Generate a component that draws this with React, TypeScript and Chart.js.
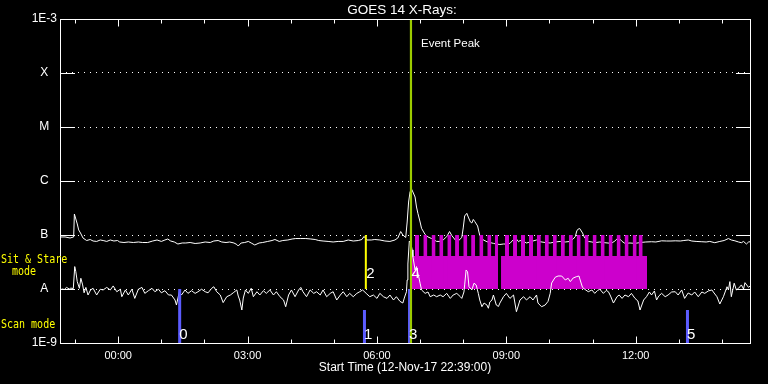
import React, { useEffect, useRef } from 'react';
import { Chart, registerables } from 'chart.js';

Chart.register(...registerables);

const TITLE = 'GOES 14 X-Rays:';
const X_TITLE = 'Start Time (12-Nov-17 22:39:00)';
const PEAK_TEXT = 'Event Peak';

// time axis: minutes after 12-Nov-17 22:39:00
const X_MIN = 0;
const X_MAX = 960;
const hourTicks = [21, 81, 141, 201, 261, 321, 381, 441, 501, 561, 621, 681, 741, 801, 861, 921];
const hourLabels = ['', '00:00', '', '', '03:00', '', '', '06:00', '', '', '09:00', '', '', '12:00', '', ''];

const yTickValues = [1e-9, 1e-8, 1e-7, 1e-6, 1e-5, 1e-4, 1e-3];
const yTickLabels = ['1E-9', 'A', 'B', 'C', 'M', 'X', '1E-3'];

// GOES long channel (1-8 A)
const longT = [
  0, 7, 14, 19, 20, 22, 24, 26, 28.5, 32,
  37, 42, 46, 51, 56, 60, 65, 70, 75, 80,
  83, 89, 95, 102, 109, 115, 122, 129, 135, 141,
  146, 150, 154, 159, 164, 170, 175, 181, 188, 195,
  202, 209, 214, 220, 225, 231, 236, 242, 246, 248,
  252, 257, 262, 266, 271, 277, 282, 289, 295, 299,
  305, 310, 317, 323, 328, 335, 342, 349, 355, 360,
  366, 373, 380, 387, 394, 401, 408, 415, 420, 423,
  427, 433, 438, 445, 452, 459, 466, 470, 474, 477,
  481, 483, 485, 487, 489, 491, 494, 496, 498, 501,
  503, 508, 512, 517, 524, 529, 533, 538, 542, 545,
  550, 554, 559, 561, 563, 566, 568, 571, 573, 575,
  577, 581, 584, 588, 594, 598, 603, 607, 612, 617,
  621, 626, 631, 633, 635, 638, 640, 645, 649, 654,
  658, 663, 668, 675, 682, 689, 696, 703, 710, 714,
  717, 719, 721, 723, 727, 730, 735, 740, 744, 751,
  758, 767, 772, 777, 782, 786, 793, 800, 809, 815,
  823, 829, 837, 844, 850, 856, 863, 868, 874, 879,
  885, 893, 899, 904, 911, 918, 924, 930, 934, 939,
  944, 948, 951, 955, 958, 960,
];
const longFlux = [
  9.2e-8, 9.2e-8, 8.8e-8, 9.2e-8, 2.45e-7, 1.98e-7, 1.6e-7, 1.24e-7, 1.09e-7, 8.8e-8,
  7.9e-8, 8.25e-8, 7.74e-8, 7.6e-8, 8.08e-8, 7.9e-8, 7.6e-8, 8.08e-8, 7.74e-8, 7.9e-8,
  7.42e-8, 7.26e-8, 7.42e-8, 7.26e-8, 7.42e-8, 7.26e-8, 7.26e-8, 7.74e-8, 8.08e-8, 7.6e-8,
  8.08e-8, 8.43e-8, 7.74e-8, 7.42e-8, 6.81e-8, 7.11e-8, 7.11e-8, 7.26e-8, 6.96e-8, 7.11e-8,
  7.42e-8, 7.26e-8, 7.74e-8, 7.9e-8, 7.42e-8, 7.26e-8, 7.42e-8, 7.11e-8, 6.67e-8, 6.26e-8,
  7.11e-8, 7.26e-8, 7.6e-8, 7.11e-8, 6.53e-8, 7.11e-8, 7.26e-8, 7.6e-8, 7.9e-8, 8.25e-8,
  7.6e-8, 7.9e-8, 8.08e-8, 8.43e-8, 8.6e-8, 8.6e-8, 8.6e-8, 8.43e-8, 8.25e-8, 7.9e-8,
  7.74e-8, 7.6e-8, 7.42e-8, 7.6e-8, 7.6e-8, 8.08e-8, 7.74e-8, 7.9e-8, 8.25e-8, 9.4e-8,
  8.08e-8, 8.08e-8, 8.25e-8, 8.08e-8, 7.74e-8, 7.6e-8, 8.08e-8, 8.8e-8, 1.16e-7, 1.0e-7,
  9.0e-8, 1.74e-7, 4.08e-7, 6.26e-7, 7.11e-7, 6.26e-7, 5.05e-7, 3.3e-7, 2.5e-7, 1.74e-7,
  1.33e-7, 1.02e-7, 9.2e-8, 8.6e-8, 7.6e-8, 7.6e-8, 8.08e-8, 9.3e-8, 1.16e-7, 9.8e-8,
  8.08e-8, 7.74e-8, 9.0e-8, 1.35e-7, 2.25e-7, 2.52e-7, 2.15e-7, 1.74e-7, 1.67e-7, 1.94e-7,
  1.78e-7, 1.47e-7, 9.8e-8, 8.25e-8, 7.5e-8, 7.26e-8, 7.0e-8, 6.81e-8, 6.67e-8, 6.81e-8,
  6.81e-8, 7.0e-8, 8.25e-8, 9.0e-8, 8.43e-8, 7.5e-8, 7.9e-8, 7.6e-8, 7.11e-8, 7.42e-8,
  7.74e-8, 8.08e-8, 7.5e-8, 7.26e-8, 7.11e-8, 7.42e-8, 7.6e-8, 7.42e-8, 7.6e-8, 8.43e-8,
  9.4e-8, 1.19e-7, 1.29e-7, 1.32e-7, 1.09e-7, 8.8e-8, 7.6e-8, 7.42e-8, 7.2e-8, 7.42e-8,
  7.2e-8, 7.0e-8, 7.74e-8, 9.0e-8, 7.6e-8, 7.0e-8, 7.11e-8, 7.0e-8, 7.3e-8, 7.42e-8,
  7.5e-8, 7.42e-8, 7.8e-8, 7.74e-8, 7.74e-8, 7.8e-8, 7.74e-8, 7.9e-8, 8.08e-8, 7.74e-8,
  7.6e-8, 7.5e-8, 7.42e-8, 7.6e-8, 7.2e-8, 7.6e-8, 7.9e-8, 8.6e-8, 8.08e-8, 7.8e-8,
  7.42e-8, 7.2e-8, 7.6e-8, 6.81e-8, 7.42e-8, 7.5e-8,
];

// GOES short channel (0.5-4 A)
const shortT = [
  0, 3, 6, 9, 13, 15, 18.5, 20.5, 22, 24,
  27, 29, 31.5, 33.5, 36, 39, 42.5, 46, 51, 56,
  60, 65, 70, 74, 79, 84, 86, 91, 95, 100,
  104, 109, 114, 118, 123, 128, 132, 137, 141, 146,
  151, 155, 160, 162, 166, 169, 174, 178, 183, 188,
  192, 197, 202, 206, 211, 214, 218, 223, 227, 232,
  237, 241, 246, 248, 250, 253, 255, 258, 262, 266,
  269, 274, 278, 283, 287, 292, 297, 301, 306, 311,
  314, 318, 322, 327, 332, 335, 338, 343, 348, 353,
  357, 362, 366, 371, 376, 380, 385, 390, 394, 399,
  403, 408, 413, 417, 421, 426, 431, 436, 441, 445,
  450, 455, 459, 464, 468, 473, 477, 479, 482, 483,
  484, 486, 488, 490, 491, 494, 496, 498, 501, 503,
  508, 512, 515, 520, 524, 529, 533, 538, 543, 547,
  552, 557, 559, 562, 563, 565, 567, 569, 573, 576,
  579, 582, 584, 587, 590, 594, 596, 598, 601, 603,
  605, 607, 610, 612, 617, 621, 626, 631, 635, 640,
  645, 649, 654, 658, 663, 665, 670, 675, 679, 682,
  684, 689, 693, 698, 703, 707, 710, 714, 719, 722,
  725, 727, 730, 735, 740, 744, 748, 751, 756, 760,
  763, 766, 770, 775, 778, 782, 786, 791, 795, 800,
  804, 807, 812, 816, 820, 823, 827, 830, 833, 837,
  842, 846, 851, 856, 860, 865, 869, 874, 879, 883,
  888, 893, 897, 902, 907, 910, 914, 918, 923, 928,
  930, 932, 934, 938, 941, 944, 948, 951, 953, 958,
  960,
];
const shortFlux = [
  9.6e-9, 1.0e-8, 9.8e-9, 1.07e-8, 1.0e-8, 1.04e-8, 1.02e-8, 2.6e-8, 2.09e-8, 1.37e-8,
  1.03e-8, 1.58e-8, 1.19e-8, 8.5e-9, 1.07e-8, 7.74e-9, 9.6e-9, 1.03e-8, 7.74e-9, 9.9e-9,
  9.6e-9, 1.07e-8, 9.6e-9, 1.14e-8, 8.9e-9, 9.9e-9, 7.2e-9, 9.6e-9, 7.74e-9, 9.9e-9,
  6.7e-9, 9.9e-9, 1.07e-8, 8.3e-9, 9.3e-9, 1.03e-8, 8.9e-9, 9.9e-9, 8.5e-9, 9.3e-9,
  7.74e-9, 7.74e-9, 6.26e-9, 5.05e-9, 8.9e-9, 7.74e-9, 9.6e-9, 8.3e-9, 9.3e-9, 8.3e-9,
  8.9e-9, 9.9e-9, 8.9e-9, 8.5e-9, 1.03e-8, 1.1e-8, 8.9e-9, 7.74e-9, 5.6e-9, 7.2e-9,
  7.74e-9, 8.5e-9, 9.6e-9, 7.4e-9, 6.26e-9, 4.08e-9, 6.8e-9, 9.6e-9, 8.3e-9, 1.03e-8,
  7.2e-9, 8.9e-9, 7.74e-9, 9.3e-9, 8.3e-9, 9.6e-9, 7.74e-9, 8.9e-9, 7.2e-9, 6.26e-9,
  4.7e-9, 7.74e-9, 9.6e-9, 7.2e-9, 9.6e-9, 1.07e-8, 8.9e-9, 7.2e-9, 9.6e-9, 8.3e-9,
  8.9e-9, 7.74e-9, 9.6e-9, 7.2e-9, 8.3e-9, 8.9e-9, 6.26e-9, 7.74e-9, 8.9e-9, 7.2e-9,
  8.3e-9, 7.2e-9, 8.3e-9, 8.9e-9, 9.6e-9, 8.3e-9, 7.2e-9, 7.74e-9, 6.7e-9, 8.3e-9,
  7.2e-9, 6.7e-9, 7.74e-9, 6.26e-9, 7.2e-9, 5.9e-9, 5.5e-9, 6.8e-9, 8.9e-9, 1.47e-8,
  2.9e-8, 7.74e-8, 7.1e-8, 5.3e-8, 3.97e-8, 2.25e-8, 2.6e-8, 1.95e-8, 1.28e-8, 9.6e-9,
  8.3e-9, 8.8e-9, 7.2e-9, 7.74e-9, 7.2e-9, 7.74e-9, 7.2e-9, 8.3e-9, 6.7e-9, 7.74e-9,
  8.3e-9, 7.2e-9, 6.7e-9, 8.8e-9, 1.19e-8, 2.25e-8, 2.09e-8, 1.1e-8, 9.6e-9, 1.28e-8,
  1.19e-8, 8.3e-9, 6.26e-9, 4.7e-9, 5.5e-9, 5.05e-9, 4.4e-9, 5.75e-9, 6.26e-9, 7.74e-9,
  6.26e-9, 5.05e-9, 4.75e-9, 5.5e-9, 7.2e-9, 8.3e-9, 6.7e-9, 7.74e-9, 3.8e-9, 6.26e-9,
  7.2e-9, 6.26e-9, 7.2e-9, 6.26e-9, 7.74e-9, 5.5e-9, 4.7e-9, 5.05e-9, 5.9e-9, 8.3e-9,
  1.29e-8, 1.65e-8, 1.74e-8, 1.74e-8, 1.47e-8, 1.58e-8, 1.37e-8, 1.6e-8, 1.7e-8, 1.74e-8,
  1.29e-8, 1.07e-8, 9.9e-9, 8.9e-9, 9.6e-9, 8.3e-9, 9.4e-9, 9.9e-9, 8.3e-9, 9.4e-9,
  8.9e-9, 7.4e-9, 5.5e-9, 7.2e-9, 7.74e-9, 6.7e-9, 7.74e-9, 7.2e-9, 8.3e-9, 6.7e-9,
  6.0e-9, 4.08e-9, 6.26e-9, 7.2e-9, 8.8e-9, 7.74e-9, 9.2e-9, 6.26e-9, 7.4e-9, 8.3e-9,
  7.2e-9, 7.74e-9, 8.8e-9, 8.9e-9, 7.74e-9, 9.6e-9, 6.7e-9, 8.43e-9, 7.74e-9, 8.8e-9,
  7.2e-9, 8.8e-9, 8.3e-9, 9.2e-9, 9.6e-9, 8.43e-9, 7.2e-9, 5.27e-9, 7.2e-9, 1.1e-8,
  9.6e-9, 1.37e-8, 7.2e-9, 1.28e-8, 9.6e-9, 1.03e-8, 1.19e-8, 1.0e-8, 1.31e-8, 1.07e-8,
  1.14e-8,
];

// IRIS observations (minutes after start)
const rasterStart = [493.9, 505.5, 516.9, 527.7, 538.9, 549.7, 561.1, 572.0, 583.4, 594.5, 605.0,
  619.1, 630.3, 641.4, 652.5, 663.4, 674.5, 685.6, 696.8, 707.9, 718.8, 729.9, 741.0, 752.2,
  763.3, 774.4, 785.5, 796.7, 805.0];
const rasterEnd = [499.5, 511.1, 522.5, 533.3, 544.5, 555.3, 566.7, 577.6, 589.0, 600.1, 609.4,
  624.7, 635.9, 647.0, 658.1, 669.0, 680.1, 691.2, 702.4, 713.5, 724.4, 735.5, 746.6, 757.8,
  768.9, 780.0, 791.1, 802.3, 810.7];
const stareStart = [489.7, 613.6];
const stareEnd = [609.4, 816.7];
const stareLabel = '4';
const bandTop = 1e-7;
const bandMid = 4.1e-8;
const bandBottom = 1e-8;

const scanT = [166.5, 423.6, 486.3, 873.0];
const scanTop = [1e-8, 4.1e-9, 1e-8, 4.1e-9];
const scanLabels = ['0', '1', '3', '5'];
const stareMarkT = 425.5;
const stareMarkLabel = '2';
const peakT = 488.3;

const WHITE = '#ffffff';
const MAGENTA = '#cc00cc';
const BLUE = '#5c5cff';
const YELLOW = '#ffff00';
const GREEN = '#9ccc00';

const pts = (t: number[], f: number[]) => t.map((v, i) => ({ x: v, y: f[i] }));

const stretchText = (ctx: any, text: string, x: number, y: number, sy: number) => {
  ctx.save();
  ctx.translate(x, y);
  ctx.scale(1, sy);
  ctx.fillText(text, 0, 0);
  ctx.restore();
};

const overlay = {
  id: 'overlay',
  afterDraw(chart: any) {
    const { ctx, chartArea: a } = chart;
    const xs = chart.scales.x;
    const ys = chart.scales.y;
    ctx.save();
    ctx.setLineDash([]);
    ctx.strokeStyle = WHITE;
    ctx.lineWidth = 1;
    ctx.strokeRect(a.left + 0.5, a.top + 0.5, a.right - a.left, a.bottom - a.top);
    ctx.beginPath();
    hourTicks.forEach((t, i) => {
      const px = Math.round(xs.getPixelForValue(t)) + 0.5;
      const len = hourLabels[i] ? 7 : 4;
      ctx.moveTo(px, a.bottom + 0.5);
      ctx.lineTo(px, a.bottom + 0.5 - len);
      ctx.moveTo(px, a.top + 0.5);
      ctx.lineTo(px, a.top + 0.5 + len);
    });
    yTickValues.forEach((v) => {
      const py = Math.round(ys.getPixelForValue(v)) + 0.5;
      ctx.moveTo(a.left, py);
      ctx.lineTo(a.left + 15, py);
      ctx.moveTo(a.right + 1, py);
      ctx.lineTo(a.right - 14, py);
    });
    ctx.stroke();

    ctx.fillStyle = WHITE;
    ctx.textBaseline = 'alphabetic';
    ctx.textAlign = 'center';
    ctx.font = '13.5px "Liberation Sans"';
    ctx.fillText(TITLE, 402, 14);

    ctx.textAlign = 'left';
    ctx.font = '11.5px "Liberation Sans"';
    ctx.fillText(PEAK_TEXT, xs.getPixelForValue(peakT) + 10, a.top + 28);

    ctx.font = '15px "Liberation Sans"';
    scanT.forEach((t, i) => {
      ctx.fillText(scanLabels[i], xs.getPixelForValue(t) - 0.5, a.bottom - 4.5);
    });
    const midRow = ys.getPixelForValue(bandBottom) - 11;
    ctx.fillText(stareMarkLabel, xs.getPixelForValue(stareMarkT) + 0.5, midRow);
    ctx.fillText(stareLabel, xs.getPixelForValue(stareStart[0]) - 0.5, midRow);

    ctx.fillStyle = YELLOW;
    ctx.font = '10px "DejaVu Sans Mono"';
    const aRow = ys.getPixelForValue(bandBottom);
    stretchText(ctx, 'Sit & Stare', 1, aRow - 26, 1.22);
    stretchText(ctx, 'mode', 12, aRow - 14, 1.22);
    stretchText(ctx, 'Scan mode', 1, a.bottom - 15, 1.22);
    ctx.restore();
  },
};

export default function App() {
  const ref = useRef<HTMLCanvasElement>(null);
  useEffect(() => {
    document.body.style.margin = '0';
    document.body.style.background = '#000';
    const datasets: any[] = [];
    datasets.push({
      data: pts(longT, longFlux), borderColor: WHITE, borderWidth: 1, pointRadius: 0, order: 5,
    });
    rasterStart.forEach((s, i) => {
      datasets.push({
        data: [{ x: s, y: bandTop }, { x: rasterEnd[i], y: bandTop }],
        borderWidth: 0, borderColor: 'rgba(0,0,0,0)', backgroundColor: MAGENTA,
        fill: { value: bandBottom }, pointRadius: 0, order: 4,
      });
    });
    stareStart.forEach((s, i) => {
      datasets.push({
        data: [{ x: s, y: bandMid }, { x: stareEnd[i], y: bandMid }],
        borderWidth: 0, borderColor: 'rgba(0,0,0,0)', backgroundColor: MAGENTA,
        fill: { value: bandBottom }, pointRadius: 0, order: 4,
      });
    });
    datasets.push({
      data: pts(shortT, shortFlux), borderColor: WHITE, borderWidth: 1, pointRadius: 0, order: 3,
    });
    scanT.forEach((t, i) => {
      datasets.push({
        data: [{ x: t, y: scanTop[i] }, { x: t, y: 1e-9 }],
        borderColor: BLUE, borderWidth: 3, pointRadius: 0, order: 2,
      });
    });
    datasets.push({
      data: [{ x: stareMarkT, y: bandTop }, { x: stareMarkT, y: bandBottom }],
      borderColor: YELLOW, borderWidth: 2, pointRadius: 0, order: 2,
    });
    datasets.push({
      data: [{ x: peakT, y: 1e-3 }, { x: peakT, y: 1e-9 }],
      borderColor: GREEN, borderWidth: 2.2, pointRadius: 0, order: 1,
    });

    const chart = new Chart(ref.current as HTMLCanvasElement, {
      type: 'line',
      data: { datasets },
      plugins: [overlay],
      options: {
        responsive: false,
        animation: false,
        devicePixelRatio: 1,
        events: [],
        layout: { padding: { left: 0, top: 19, right: 18, bottom: 0 } },
        elements: { line: { tension: 0 }, point: { radius: 0 } },
        plugins: { legend: { display: false }, tooltip: { enabled: false }, title: { display: false } },
        scales: {
          x: {
            type: 'linear', min: X_MIN, max: X_MAX, position: 'bottom',
            afterBuildTicks: (s: any) => { s.ticks = hourTicks.map((v) => ({ value: v })); },
            afterFit: (s: any) => { s.height = 41; },
            grid: { display: false, drawTicks: false },
            border: { display: false },
            ticks: {
              color: WHITE, font: { family: 'Liberation Sans', size: 11 }, padding: 6,
              maxRotation: 0, autoSkip: false,
              callback: (_v: any, i: number) => hourLabels[i] ?? '',
            },
            title: {
              display: true, text: X_TITLE, color: WHITE,
              font: { family: 'Liberation Sans', size: 12 }, padding: { top: 0, bottom: 9 },
            },
          },
          y: {
            type: 'logarithmic', min: 1e-9, max: 1e-3,
            afterBuildTicks: (s: any) => { s.ticks = yTickValues.map((v) => ({ value: v })); },
            afterFit: (s: any) => { s.width = 60; },
            grid: { color: WHITE, lineWidth: 1, drawTicks: false },
            border: { display: false, dash: [1, 5] },
            ticks: {
              color: WHITE, font: { family: 'Liberation Sans', size: 12 }, padding: 3,
              crossAlign: 'center', autoSkip: false,
              callback: (_v: any, i: number) => yTickLabels[i] ?? '',
            },
          },
        },
      } as any,
    });
    return () => chart.destroy();
  }, []);
  return (
    <div style={{ position: 'fixed', left: 0, top: 0, width: 768, height: 384, background: '#000' }}>
      <canvas ref={ref} width={768} height={384} style={{ display: 'block' }} />
    </div>
  );
}
